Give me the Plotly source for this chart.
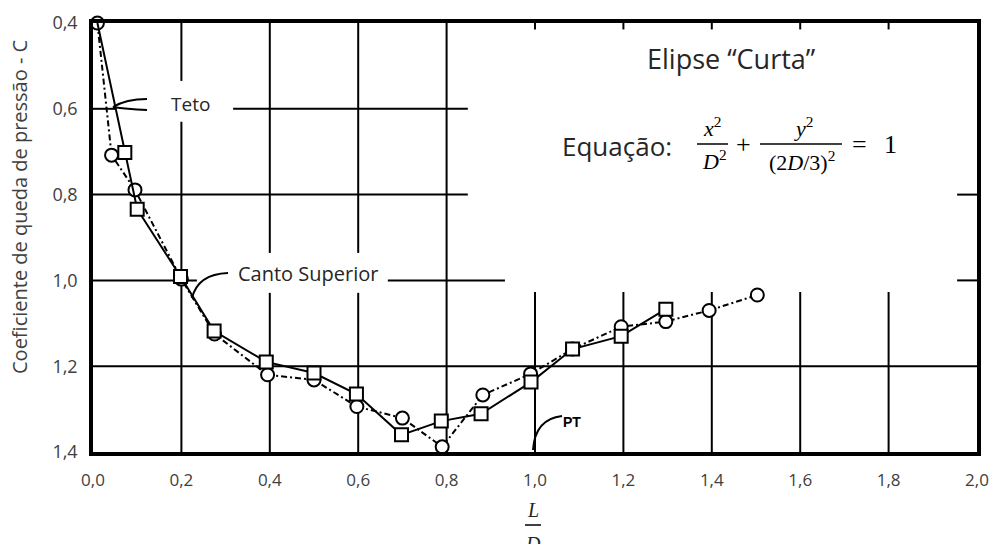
import plotly.graph_objects as go

# ---------------- data ----------------
circ_x = [0.01, 0.042, 0.095, 0.20, 0.275, 0.395, 0.50, 0.597, 0.70, 0.79, 0.882, 0.99, 1.085, 1.195, 1.296, 1.394, 1.503]
circ_y = [0.40, 0.708, 0.789, 0.997, 1.125, 1.22, 1.232, 1.294, 1.321, 1.388, 1.267, 1.218, 1.16, 1.108, 1.096, 1.07, 1.034]

sq_x = [0.01, 0.072, 0.10, 0.198, 0.274, 0.392, 0.50, 0.596, 0.698, 0.788, 0.878, 0.991, 1.085, 1.195, 1.296]
sq_y = [0.40, 0.702, 0.834, 0.991, 1.118, 1.19, 1.216, 1.265, 1.36, 1.328, 1.311, 1.237, 1.16, 1.13, 1.067]

x_tickvals = [0.0, 0.2, 0.4, 0.6, 0.8, 1.0, 1.2, 1.4, 1.6, 1.8, 2.0]
x_ticktext = ["0,0", "0,2", "0,4", "0,6", "0,8", "1,0", "1,2", "1,4", "1,6", "1,8", "2,0"]
y_tickvals = [0.4, 0.6, 0.8, 1.0, 1.2, 1.4]
y_ticktext = ["0,4", "0,6", "0,8", "1,0", "1,2", "1,4"]

y_title = "Coeficiente de queda de pressão - C"

# gridline segments (broken where labels sit)
v_grid = [(0.2, 0.4, 0.535), (0.2, 0.63, 1.4),
          (0.4, 0.4, 0.936), (0.4, 1.029, 1.4),
          (0.6, 0.4, 0.936), (0.6, 1.029, 1.4),
          (0.8, 0.4, 1.4),
          (1.0, 1.027, 1.4), (1.2, 1.027, 1.4), (1.4, 1.027, 1.4),
          (1.6, 1.027, 1.4), (1.8, 1.027, 1.4)]
h_grid = [(0.6, 0.0, 0.05), (0.6, 0.317, 0.848),
          (0.8, 0.0, 0.848), (0.8, 1.955, 2.0),
          (1.0, 0.0, 0.235), (1.0, 0.667, 0.932), (1.0, 1.955, 2.0),
          (1.2, 0.0, 2.0)]
top_ticks = [1.0, 1.2, 1.4, 1.6, 1.8]

# ---------------- figure geometry ----------------
W, H = 989, 544
L, R, T, B = 93, 12, 23, 92
PW, PH = W - L - R, H - T - B


def px(xp):
    return (xp - L) / PW


def py(yp):
    return (H - B - yp) / PH


fig = go.Figure()

fig.add_trace(go.Scatter(
    x=circ_x, y=circ_y, mode="lines+markers", cliponaxis=False,
    line=dict(color="black", width=2, dash="6px,3px,2px,3px"),
    marker=dict(symbol="circle", size=13, color="white", opacity=1,
                line=dict(color="black", width=2)),
    showlegend=False))

sq_sizes = [0] + [13] * (len(sq_x) - 1)
fig.add_trace(go.Scatter(
    x=sq_x, y=sq_y, mode="lines+markers", cliponaxis=False,
    line=dict(color="black", width=2),
    marker=dict(symbol="square", size=sq_sizes, color="white", opacity=1,
                line=dict(color="black", width=2)),
    showlegend=False))

shapes = []
for (xv, y0, y1) in v_grid:
    shapes.append(dict(type="line", xref="x", yref="y", x0=xv, x1=xv, y0=y0, y1=y1,
                       line=dict(color="black", width=2), layer="below"))
for (yv, x0, x1) in h_grid:
    shapes.append(dict(type="line", xref="x", yref="y", x0=x0, x1=x1, y0=yv, y1=yv,
                       line=dict(color="black", width=2), layer="below"))
for xv in top_ticks:
    shapes.append(dict(type="line", xref="x", yref="y", x0=xv, x1=xv, y0=0.4, y1=0.415,
                       line=dict(color="black", width=2), layer="below"))


def path(points):
    (x0, y0), (cx, cy), (x1, y1) = points
    return f"M {px(x0)},{py(y0)} Q {px(cx)},{py(cy)} {px(x1)},{py(y1)}"


pointer_paths = [
    [(147, 99), (126, 99), (113, 107)],      # Teto upper stroke
    [(147, 110), (126, 109), (113, 107)],    # Teto lower stroke
    [(192, 298), (198, 274), (228, 273)],    # Canto Superior
    [(533, 450), (535, 419), (562, 416)],    # PT
]
for p in pointer_paths:
    shapes.append(dict(type="path", xref="paper", yref="paper", path=path(p),
                       line=dict(color="black", width=2)))
# fraction bars (equation and x-axis title)
for (x0, x1, yb) in [(697, 728, 144), (760, 842, 144), (525, 541, 525)]:
    shapes.append(dict(type="line", xref="paper", yref="paper",
                       x0=px(x0), x1=px(x1), y0=py(yb), y1=py(yb),
                       line=dict(color="black", width=1.5)))

annotations = []


def txt(text, xp, yp, size, family="Open Sans", color="#262626", **kw):
    annotations.append(dict(text=text, x=px(xp), y=py(yp), xref="paper", yref="paper",
                            showarrow=False, xanchor="center", yanchor="middle",
                            font=dict(family=family, size=size, color=color), **kw))


txt("Teto", 190, 104, 19)
txt("Canto Superior", 308, 273, 20)
txt("<b>PT</b>", 572, 422, 14, family="Liberation Sans", color="black")
txt("Elipse “Curta”", 731, 58, 27)
txt("Equação:", 617, 146, 26)
serif = "Liberation Serif"
txt("<i>x</i><sup>2</sup>", 712, 127, 22, family=serif, color="black")
txt("<i>D</i><sup>2</sup>", 714, 160, 22, family=serif, color="black")
txt("+", 743, 144, 26, family=serif, color="black")
txt("<i>y</i><sup>2</sup>", 803, 127, 22, family=serif, color="black")
txt("(2<i>D</i>/3)<sup>2</sup>", 802, 161, 22, family=serif, color="black")
txt("=", 859, 144, 26, family=serif, color="black")
txt("1", 890, 144, 26, family=serif, color="black")
txt("<i>L</i>", 533, 510, 20, family=serif, color="#262626")
txt("<i>D</i>", 533, 544, 20, family=serif, color="#262626")
txt(y_title, 19, 207, 20, color="#404040", textangle=-90)

axis_common = dict(showline=True, linecolor="black", linewidth=3.5, mirror=True,
                   showgrid=False, zeroline=False, ticks="outside",
                   tickcolor="rgba(0,0,0,0)", automargin=False)

fig.update_layout(
    width=W, height=H, autosize=False,
    margin=dict(l=L, r=R, t=T, b=B, pad=0, autoexpand=False),
    paper_bgcolor="white", plot_bgcolor="white",
    xaxis=dict(range=[0, 2.0], tickmode="array", tickvals=x_tickvals,
               ticktext=x_ticktext, ticklen=10,
               tickfont=dict(family="Open Sans", size=17, color="#404040"),
               **axis_common),
    yaxis=dict(range=[1.4, 0.4], tickmode="array", tickvals=y_tickvals,
               ticktext=y_ticktext, ticklen=8,
               tickfont=dict(family="Open Sans", size=18, color="#404040"),
               **axis_common),
    shapes=shapes, annotations=annotations,
)

fig.write_html("out.html")
